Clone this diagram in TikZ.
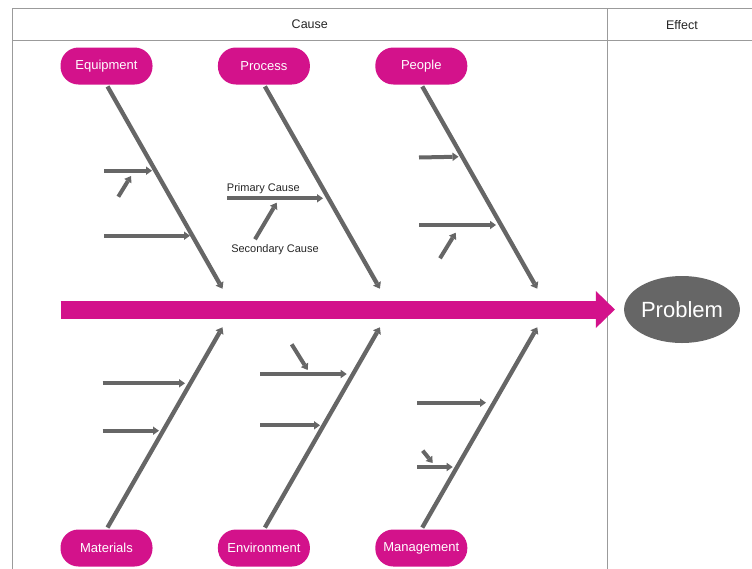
\documentclass[tikz,border=0pt]{standalone}
\usepackage{fontspec}
\setmainfont{Liberation Sans}
\usetikzlibrary{positioning, shapes.geometric, arrows.meta, calc}
\definecolor{fishpink}{HTML}{D3128B}
\definecolor{bonegrey}{HTML}{666666}
\definecolor{framegrey}{HTML}{9B9B9B}

\begin{document}
\begin{tikzpicture}[
  x=1pt, y=-1pt,
  node distance=65pt,
  catbox/.style={
    fill=fishpink,
    rounded corners=18pt,
    minimum width=92pt,
    minimum height=37pt,
    inner sep=0pt,
    text=white,
    font=\fontsize{13}{15}\selectfont
  },
  bone/.style={draw=bonegrey, line width=4.3pt, shorten <=2pt,
    -{Triangle[length=6pt,width=9pt,line width=0pt]}},
  cause/.style={draw=bonegrey, line width=4pt,
    -{Triangle[length=6pt,width=8.5pt,line width=0pt]}},
  spine/.style={draw=fishpink, line width=18pt,
    -{Triangle[length=19pt,width=37pt,line width=0pt]}},
  effectnode/.style={ellipse, fill=bonegrey, minimum width=112pt,
    minimum height=67pt, inner sep=0pt, text=white,
    font=\fontsize{22}{26}\selectfont},
  head/.style={font=\fontsize{12.5}{14}\selectfont, text=black!85},
  lbl/.style={font=\fontsize{11}{13}\selectfont, text=black!85},
  frame/.style={draw=framegrey, line width=0.9pt}
]
  \useasboundingbox (0,0) rectangle (752,568);
  \clip (0,0) rectangle (752,568);

  % --- Table frame ---
  \draw[frame] (12,8) rectangle (760,575);
  \draw[frame] (12,40.7) -- (760,40.7);
  \draw[frame] (607.7,8) -- (607.7,575);
  \node[head] (cause)  at (309.8,24) {Cause};
  \node[head] (effect) at (682,25)   {Effect};

  % --- Categories ---
  \node[catbox]                (equip)   at (106.5,66)  {Equipment};
  \node[catbox, right=of equip]   (process) {Process};
  \node[catbox, right=of process] (people)  {People};
  \node[catbox]                (mat)     at (106.5,548) {Materials};
  \node[catbox, right=of mat]     (env)     {Environment};
  \node[catbox, right=of env]     (mgmt)    {Management};

  % --- Head and spine ---
  \node[effectnode] (problem) at (682,309.5) {Problem};
  \coordinate (tail) at (60.5,309.5);
  \draw[spine] (tail) -- ([xshift=-9pt]problem.west);

  % --- Main bones ---
  \foreach \c in {equip, process, people}
    \coordinate (\c-end) at ($(\c.south)+(116,204)$);
  \foreach \c in {mat, env, mgmt}
    \coordinate (\c-end) at ($(\c.north)+(116,-202)$);
  \foreach \c/\a in {equip/south, process/south, people/south,
                     mat/north, env/north, mgmt/north}
    \draw[bone] (\c.\a) -- (\c-end);

  % --- Primary and secondary causes ---
  \foreach \n/\xa/\ya/\xb/\yb in {
      e1/104/170.7/152/170.7, e2/104/235.7/190/235.7, e3/118.3/196.7/131/176,
      p1/227.3/198.3/323/198.3, p2/255/239.3/276.7/202.7,
      q1/419/157.5/458.5/156.7, q2/419/225/496/225, q3/440/258.3/455.7/232.7,
      m1/102.7/383.3/185/383.3, m2/102.7/430.7/159/430.7,
      v1/260/374/346.7/374, v2/260/425.3/320/425.3, v3/291.7/344.3/307.7/370,
      g1/417/402.7/486/402.7, g2/417/467/452.7/467, g3/422.7/450.7/432.7/463}
  {
    \coordinate (\n-a) at (\xa,\ya);
    \coordinate (\n-b) at (\xb,\yb);
    \draw[cause] (\n-a) -- (\n-b);
  }

  \node[lbl] (primary)   at (263.3,189) {Primary Cause};
  \node[lbl] (secondary) at (275,250)   {Secondary Cause};

\end{tikzpicture}
\end{document}
